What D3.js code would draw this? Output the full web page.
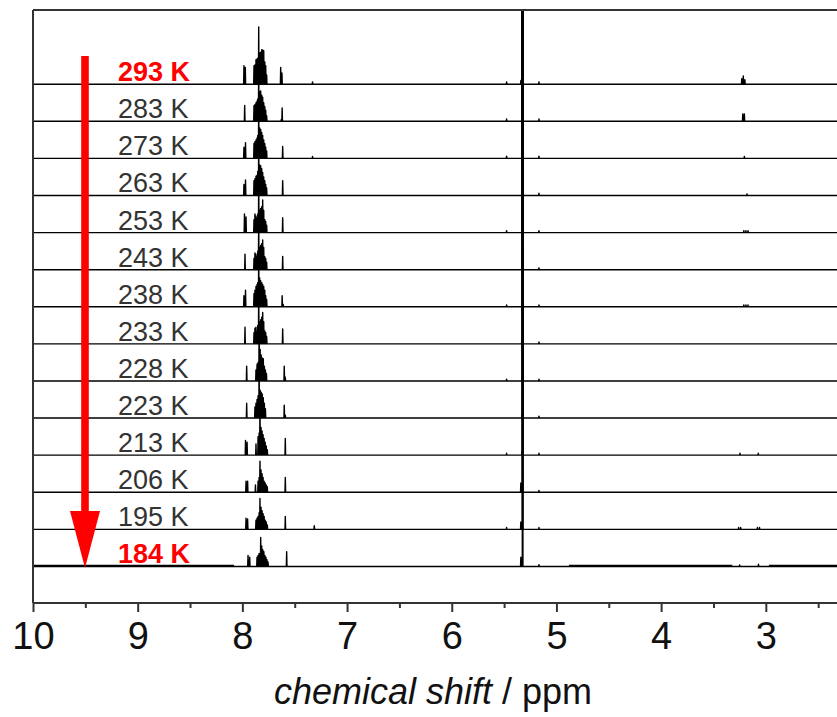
<!DOCTYPE html>
<html>
<head>
<meta charset="utf-8">
<title>VT NMR stack</title>
<script src="https://d3js.org/d3.v7.min.js"></script>
<style>
    body { margin: 0; background: #fff; }
    svg { display: block; }
    .frame { stroke: #333; stroke-width: 2px; fill: none; }
    .spectrum { fill: none; stroke: #000; stroke-width: 1.4px; stroke-linejoin: round; }
    .noise { fill: none; stroke: #000; stroke-width: 2px; }
    .temp { font-family: Arial, "Liberation Sans", sans-serif; font-size: 27px; fill: #333; }
    .temp.hot { fill: #ff0000; font-weight: bold; }
    .tick text { font-family: Arial, "Liberation Sans", sans-serif; font-size: 38px; fill: #111; }
    .tick line { stroke: #333; stroke-width: 2px; }
    .xtitle { font-family: Arial, "Liberation Sans", sans-serif; font-size: 36px; fill: #111; }
</style>
</head>
<body>
<svg id="chart" width="837" height="717"></svg>
<script>
// temperature labels, top spectrum first
var temps = ["293 K", "283 K", "273 K", "263 K", "253 K", "243 K", "238 K",
             "233 K", "228 K", "223 K", "213 K", "206 K", "195 K", "184 K"];
var redTemps = ["293 K", "184 K"];

// aromatic region peaks per spectrum: [ppm, intensity] (1 = spacing between spectra)
var aromatic = [
  [[7.985,0.5],[7.972,0.45],[7.889,0.5],[7.88,0.52],[7.87,0.66],[7.86,0.68],[7.853,0.7],[7.844,1.54],[7.835,0.84],[7.825,0.86],[7.815,0.93],[7.806,0.92],[7.796,0.9],[7.786,0.6],[7.777,0.5],[7.768,0.25],[7.634,0.45],[7.622,0.3]],
  [[7.978,0.43],[7.889,0.42],[7.88,0.45],[7.87,0.5],[7.86,0.55],[7.853,0.6],[7.844,1.5],[7.835,0.8],[7.825,0.82],[7.815,0.7],[7.806,0.65],[7.796,0.5],[7.786,0.4],[7.777,0.3],[7.768,0.15],[7.628,0.05],[7.62,0.36]],
  [[7.985,0.3],[7.97,0.42],[7.889,0.4],[7.88,0.45],[7.87,0.5],[7.86,0.55],[7.853,0.62],[7.844,1.5],[7.835,0.82],[7.825,0.78],[7.815,0.7],[7.806,0.62],[7.796,0.5],[7.786,0.4],[7.777,0.3],[7.768,0.2],[7.615,0.32]],
  [[7.985,0.3],[7.97,0.42],[7.889,0.4],[7.88,0.45],[7.87,0.52],[7.86,0.55],[7.853,0.65],[7.844,1.5],[7.835,0.82],[7.825,0.8],[7.815,0.72],[7.806,0.62],[7.796,0.5],[7.786,0.4],[7.777,0.3],[7.768,0.2],[7.615,0.4]],
  [[7.98,0.5],[7.965,0.42],[7.889,0.35],[7.88,0.5],[7.87,0.45],[7.86,0.4],[7.853,0.5],[7.844,1.5],[7.835,0.6],[7.825,0.65],[7.815,0.7],[7.806,0.88],[7.796,0.6],[7.786,0.35],[7.777,0.3],[7.768,0.2],[7.615,0.4]],
  [[7.975,0.42],[7.889,0.3],[7.88,0.45],[7.87,0.42],[7.86,0.35],[7.853,0.5],[7.844,1.5],[7.835,0.6],[7.825,0.65],[7.815,0.7],[7.806,0.8],[7.796,0.6],[7.786,0.35],[7.777,0.3],[7.768,0.2],[7.615,0.36]],
  [[7.985,0.3],[7.97,0.45],[7.889,0.35],[7.88,0.45],[7.87,0.55],[7.86,0.6],[7.853,0.65],[7.844,1.5],[7.835,0.78],[7.825,0.7],[7.815,0.65],[7.806,0.6],[7.796,0.55],[7.786,0.45],[7.777,0.3],[7.768,0.2],[7.62,0.3],[7.61,0.06]],
  [[7.975,0.45],[7.889,0.3],[7.88,0.42],[7.87,0.45],[7.86,0.35],[7.853,0.5],[7.844,1.5],[7.835,0.6],[7.825,0.65],[7.815,0.72],[7.806,0.85],[7.796,0.6],[7.786,0.35],[7.777,0.3],[7.768,0.2],[7.615,0.4]],
  [[7.959,0.4],[7.87,0.3],[7.86,0.45],[7.85,0.5],[7.84,1.5],[7.83,0.85],[7.82,0.7],[7.81,0.62],[7.8,0.6],[7.79,0.4],[7.78,0.3],[7.77,0.2],[7.60,0.4],[7.59,0.1]],
  [[7.959,0.4],[7.88,0.3],[7.87,0.4],[7.86,0.5],[7.85,0.6],[7.84,1.5],[7.83,0.75],[7.82,0.7],[7.81,0.65],[7.8,0.55],[7.79,0.4],[7.78,0.25],[7.60,0.35],[7.59,0.08]],
  [[7.97,0.4],[7.955,0.35],[7.87,0.3],[7.85,0.5],[7.84,0.6],[7.832,1.5],[7.822,0.75],[7.812,0.65],[7.802,0.55],[7.792,0.45],[7.782,0.35],[7.772,0.25],[7.762,0.15],[7.59,0.45]],
  [[7.965,0.3],[7.95,0.3],[7.875,0.2],[7.85,0.3],[7.84,0.4],[7.832,0.84],[7.822,0.6],[7.812,0.5],[7.802,0.4],[7.792,0.3],[7.782,0.25],[7.772,0.2],[7.762,0.15],[7.59,0.4]],
  [[7.965,0.3],[7.95,0.28],[7.87,0.25],[7.86,0.3],[7.85,0.35],[7.84,0.45],[7.832,0.83],[7.822,0.6],[7.812,0.5],[7.802,0.42],[7.792,0.35],[7.782,0.25],[7.772,0.2],[7.762,0.12],[7.59,0.35]],
  [[7.946,0.3],[7.93,0.25],[7.86,0.25],[7.85,0.3],[7.84,0.35],[7.825,0.78],[7.815,0.55],[7.805,0.45],[7.795,0.4],[7.785,0.3],[7.775,0.25],[7.765,0.18],[7.755,0.12],[7.577,0.4]]
];

// small peaks outside the aromatic region, per spectrum
var minor = [
  [[7.33,0.06],[5.476,0.06],[5.34,0.1],[5.167,0.06],[3.23,0.15],[3.215,0.22],[3.2,0.12]],
  [[5.476,0.06],[5.33,0.08],[5.167,0.06],[3.22,0.2],[3.205,0.2]],
  [[7.33,0.05],[5.476,0.06],[5.33,0.1],[5.167,0.06],[3.205,0.05]],
  [[5.33,0.08],[5.167,0.06],[3.18,0.04]],
  [[5.476,0.05],[5.33,0.08],[5.167,0.05],[3.21,0.05],[3.19,0.05],[3.17,0.05]],
  [[5.33,0.1],[5.167,0.05]],
  [[5.476,0.05],[5.33,0.1],[5.167,0.05],[3.21,0.05],[3.19,0.05],[3.17,0.05]],
  [[5.33,0.12],[5.167,0.05]],
  [[5.476,0.05],[5.33,0.1],[5.167,0.05]],
  [[5.33,0.1],[5.167,0.05]],
  [[5.476,0.05],[5.33,0.1],[5.167,0.05],[3.247,0.05],[3.072,0.05]],
  [[5.34,0.25],[5.167,0.05]],
  [[7.313,0.1],[5.476,0.05],[5.34,0.2],[5.167,0.05],[3.26,0.05],[3.24,0.05],[3.08,0.05],[3.06,0.05]],
  [[5.34,0.25],[5.167,0.05],[3.25,0.04],[3.07,0.06]]
];

// CH2Cl2 solvent line, off scale in every spectrum
var solventPpm = 5.323;
var solventHeight = 20;

// noisy baseline stretches of the 184 K spectrum
var noiseBands = [[10, 8.08], [4.88, 3.32], [2.97, 2.32]];

var majorTicks = [10, 9, 8, 7, 6, 5, 4, 3];
var minorTicks = [9.5, 8.5, 7.5, 6.5, 5.5, 4.5, 3.5, 2.5];

var plotLeft = 33, plotRight = 837, plotTop = 10, plotBottom = 603;

var svg = d3.select("#chart");

var x = d3.scaleLinear().domain([10, 2.32]).range([plotLeft, plotRight]);
var y = d3.scaleLinear().domain([-0.985, 15.0]).range([plotBottom, plotTop]);

svg.append("clipPath").attr("id", "plotclip")
    .append("rect")
    .attr("x", plotLeft).attr("y", plotTop)
    .attr("width", plotRight - plotLeft).attr("height", plotBottom - plotTop);

var plot = svg.append("g").attr("clip-path", "url(#plotclip)");

var hw = 0.003; // half width of a stick peak in ppm

function spectrumPoints(peaks) {
    var pts = [[10, 0]];
    var sorted = peaks.slice().sort(function(a, b) { return b[0] - a[0]; });
    sorted.forEach(function(p) {
        pts.push([p[0] + hw, 0]);
        pts.push([p[0], p[1]]);
        pts.push([p[0] - hw, 0]);
    });
    pts.push([2.32, 0]);
    return pts;
}

temps.forEach(function(t, i) {
    var offset = temps.length - 1 - i;
    var peaks = aromatic[i].concat(minor[i]).concat([[solventPpm, solventHeight]]);
    var line = d3.line()
        .x(function(d) { return x(d[0]); })
        .y(function(d) { return y(offset + d[1]); });
    plot.append("path")
        .attr("class", "spectrum")
        .attr("d", line(spectrumPoints(peaks)));
});

// noise on the bottom trace
noiseBands.forEach(function(b) {
    plot.append("line")
        .attr("class", "noise")
        .attr("x1", x(b[0])).attr("x2", x(b[1]))
        .attr("y1", y(0.02)).attr("y2", y(0.02));
});

// frame: left and top
svg.append("line").attr("class", "frame")
    .attr("x1", plotLeft).attr("x2", plotLeft).attr("y1", plotTop).attr("y2", plotBottom);
svg.append("line").attr("class", "frame")
    .attr("x1", plotLeft).attr("x2", plotRight).attr("y1", plotTop).attr("y2", plotTop);

// x axis
var xAxis = d3.axisBottom(x)
    .tickValues(majorTicks)
    .tickSize(9)
    .tickSizeOuter(0)
    .tickPadding(10)
    .tickFormat(d3.format("d"));

var minorAxis = d3.axisBottom(x)
    .tickValues(minorTicks)
    .tickSize(5)
    .tickSizeOuter(0)
    .tickFormat("");

var gx = svg.append("g").attr("transform", "translate(0," + plotBottom + ")").call(xAxis);
var gm = svg.append("g").attr("transform", "translate(0," + plotBottom + ")").call(minorAxis);
gx.select(".domain").remove();
gm.select(".domain").remove();
svg.append("line").attr("class", "frame")
    .attr("x1", plotLeft).attr("x2", plotRight).attr("y1", plotBottom).attr("y2", plotBottom);

svg.append("text")
    .attr("class", "xtitle")
    .attr("x", 433).attr("y", 704)
    .attr("text-anchor", "middle")
    .html('<tspan font-style="italic">chemical shift</tspan> / ppm');

// temperature labels
temps.forEach(function(t, i) {
    var offset = temps.length - 1 - i;
    svg.append("text")
        .attr("class", redTemps.indexOf(t) >= 0 ? "temp hot" : "temp")
        .attr("x", 118)
        .attr("y", y(offset) - 3)
        .text(t);
});

// red arrow, high to low temperature
var arrowX = 85;
svg.append("rect")
    .attr("x", arrowX - 3.8).attr("y", 56)
    .attr("width", 7.6).attr("height", 460)
    .attr("fill", "#ff0000");
svg.append("path")
    .attr("d", "M" + (arrowX - 15) + "," + 511 + "L" + (arrowX + 15) + "," + 511 + "L" + arrowX + "," + 568 + "Z")
    .attr("fill", "#ff0000");
</script>
</body>
</html>
